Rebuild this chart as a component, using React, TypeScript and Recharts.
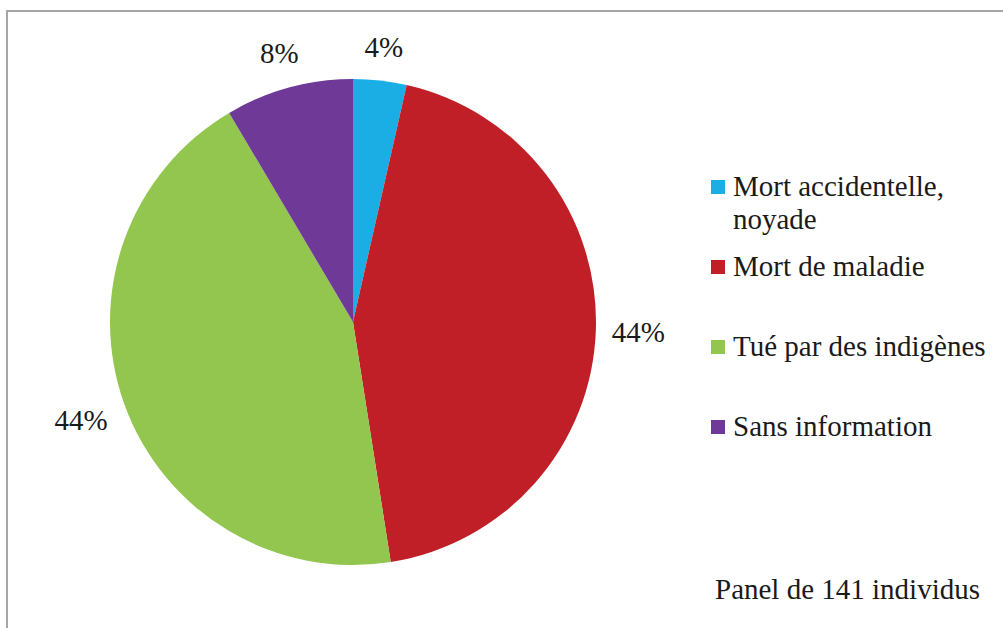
import { Cell, Legend, Pie, PieChart } from 'recharts'

const causes = ['Mort accidentelle, noyade', 'Mort de maladie', 'Tué par des indigènes', 'Sans information']
const counts = [5, 62, 62, 12]
const pctLabels = ['4%', '44%', '44%', '8%']
const colors = ['#1aaee5', '#c11f27', '#92c64e', '#6f3a97']
const note = 'Panel de 141 individus'

const data = causes.map((name, i) => ({ name, value: counts[i] }))

const FONT = '"Liberation Serif", "Times New Roman", serif'
const RAD = Math.PI / 180

/** outside-end label: text box sits just off the rim, along the slice's mid angle */
function renderLabel(props: any) {
  const { cx, cy, midAngle, outerRadius, index } = props
  const text = pctLabels[index]
  const cos = Math.cos(-midAngle * RAD)
  const sin = Math.sin(-midAngle * RAD)
  const hw = text.length * 8.7
  const hh = 16
  const r = outerRadius + 16 + hw * Math.abs(cos) + hh * Math.abs(sin)
  return (
    <text
      x={cx + r * cos}
      y={cy + r * sin}
      textAnchor="middle"
      dominantBaseline="central"
      fill="#1a1a1a"
      style={{ fontFamily: FONT, fontSize: 29 }}
    >
      {text}
    </text>
  )
}

function LegendBox() {
  return (
    <div style={{ fontFamily: FONT, fontSize: 29, color: '#1a1a1a' }}>
      {causes.map((name, i) => (
        <div key={name} style={{ display: 'flex', alignItems: 'flex-start', height: 80 }}>
          <span
            style={{
              width: 14,
              height: 14,
              marginTop: 9.5,
              marginRight: 8,
              background: colors[i],
              flex: 'none',
            }}
          />
          <span style={{ fontFamily: FONT, fontSize: 29, lineHeight: '33px', width: 262 }}>{name}</span>
        </div>
      ))}
    </div>
  )
}

export default function App() {
  return (
    <div style={{ position: 'absolute', left: 0, top: 0, width: 1003, height: 628, background: '#fff', overflow: 'hidden' }}>
      <div
        style={{
          position: 'absolute',
          left: 6,
          top: 10,
          width: 1100,
          height: 700,
          borderTop: '2px solid #a6a6a6',
          borderLeft: '2px solid #a6a6a6',
        }}
      />
      <PieChart
        width={1003}
        height={628}
        margin={{ top: 0, right: 0, bottom: 0, left: 0 }}
        style={{ position: 'absolute', left: 0, top: 0 }}
      >
        <Pie
          data={data}
          dataKey="value"
          nameKey="name"
          cx={353}
          cy={322}
          outerRadius={243}
          startAngle={90}
          endAngle={-270}
          stroke="none"
          label={renderLabel}
          labelLine={false}
          isAnimationActive={false}
        >
          {data.map((d, i) => (
            <Cell key={d.name} fill={colors[i]} />
          ))}
        </Pie>
        <Legend
          content={() => <LegendBox />}
          wrapperStyle={{ position: 'absolute', left: 711, top: 170, width: 290, bottom: 'auto', right: 'auto', fontFamily: FONT }}
        />
      </PieChart>
      <div
        style={{
          position: 'absolute',
          left: 715,
          top: 573,
          fontFamily: FONT,
          fontSize: 29,
          lineHeight: '33px',
          color: '#1a1a1a',
          whiteSpace: 'nowrap',
        }}
      >
        {note}
      </div>
    </div>
  )
}
